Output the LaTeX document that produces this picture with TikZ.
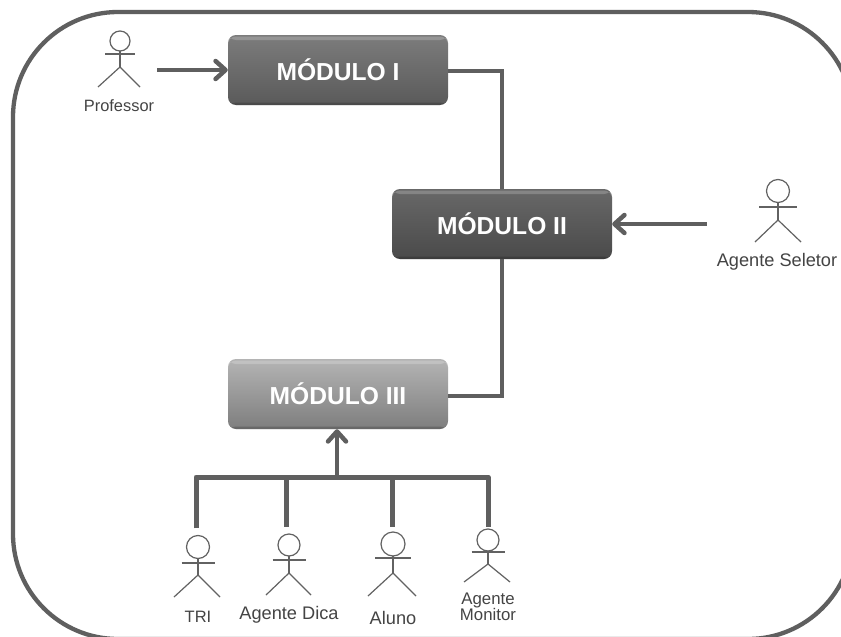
\documentclass[tikz,border=0pt]{standalone}
\usepackage{fontspec}
\setmainfont{Liberation Sans}
\usetikzlibrary{arrows.meta,fit,calc}
\definecolor{linegray}{HTML}{5F5F5F}
\definecolor{actorgray}{HTML}{626262}
\definecolor{labelgray}{HTML}{444444}
\tikzset{
  frameline/.style={draw=linegray,line width=4.3pt},
  modbox/.style={rounded corners=8pt,minimum width=220pt,minimum height=70pt,inner sep=0pt,
    text=white,font=\bfseries\fontsize{24.6}{28}\selectfont,
    path picture={
      \fill[white,opacity=.2] ([yshift=-1.5pt]path picture bounding box.north west) rectangle ([yshift=-5pt]path picture bounding box.north east);
      \fill[black,opacity=.18] ([yshift=2.5pt]path picture bounding box.south west) rectangle (path picture bounding box.south east);
    }},
  modone/.style={modbox,top color=HTMLa,bottom color=HTMLb},
  modtwo/.style={modbox,top color=HTMLc,bottom color=HTMLd},
  modthree/.style={modbox,top color=HTMLe,bottom color=HTMLf},
  conn/.style={draw=linegray,line width=4pt},
  busline/.style={draw=linegray,line width=5pt,line join=round},
  arrowline/.style={draw=linegray,line width=4.5pt,-{Straight Barb[length=10pt,width=18pt,round]}},
  actorline/.style={draw=actorgray,line width=1.2pt},
  actorlabel/.style={text=labelgray,inner sep=0pt,font=\fontsize{18.2}{20}\selectfont,align=center},
}
\definecolor{HTMLa}{HTML}{7C7C7C}
\definecolor{HTMLb}{HTML}{5A5A5A}
\definecolor{HTMLc}{HTML}{686868}
\definecolor{HTMLd}{HTML}{4A4A4A}
\definecolor{HTMLe}{HTML}{B4B4B4}
\definecolor{HTMLf}{HTML}{7E7E7E}
% name, cx, head y, r, arm half, arm y, hip y, left x, right x ; leg end y is \actorlegy
\newcommand{\actorfig}[9]{%
  \draw[actorline] (#2,#3) circle (#4);
  \draw[actorline] (#2-#5,#6) -- (#2+#5,#6);
  \draw[actorline] (#2,#3+#4) -- (#2,#7);
  \draw[actorline] (#8,\actorlegy) -- (#2,#7) -- (#9,\actorlegy);
  \coordinate (#1-a) at (#8,#3-#4);
  \coordinate (#1-b) at (#9,\actorlegy);
  \node[fit=(#1-a)(#1-b),inner sep=0pt] (#1) {};
}
\begin{document}
\begin{tikzpicture}[x=1pt,y=-1pt]
\useasboundingbox (0,0) rectangle (841,637);
\fill[white] (0,0) rectangle (841,637);
\begin{scope}
\clip (0,0) rectangle (841,637);
\draw[frameline,rounded corners=105pt] (13,12) rectangle (853,639);
\end{scope}

\node[modone] (m1) at (338,70) {MÓDULO I};
\node[modtwo] (m2) at (502,224) {MÓDULO II};
\node[modthree] (m3) at (338,394) {MÓDULO III};

\def\actorlegy{87}
\actorfig{professor}{120}{41}{10}{15}{54}{67}{98}{140}
\def\actorlegy{242}
\actorfig{seletor}{778}{191}{11.5}{19}{207}{220}{755}{801}
\def\actorlegy{597}
\actorfig{tri}{198}{547}{11.5}{16.5}{563}{575}{174}{220}
\def\actorlegy{595}
\actorfig{dica}{289}{545}{11}{16.5}{560}{573}{266}{311}
\def\actorlegy{596}
\actorfig{aluno}{393}{544}{12}{18}{558}{573}{368}{416}
\def\actorlegy{582}
\actorfig{monitor}{488}{540}{11}{16.5}{552}{564}{464}{510}

\node[actorlabel,font=\fontsize{16.4}{18}\selectfont] (lprof) at (119,106) {Professor};
\node[actorlabel] (lsel) at (777,262) {Agente Seletor};
\node[actorlabel,font=\fontsize{16.5}{18}\selectfont] (ltri) at (198,617) {TRI};
\node[actorlabel] (ldica) at (289,615) {Agente Dica};
\node[actorlabel] (laluno) at (393,618) {Aluno};
\node[actorlabel,font=\fontsize{16.8}{16}\selectfont] (lmon) at (488,607) {Agente\\Monitor};

\draw[arrowline,shorten <=17pt] (professor.east |- m1.west) -- (m1.west);
\draw[arrowline,shorten <=48pt] (seletor.west |- m2.east) -- (m2.east);
\draw[conn] ([yshift=-1pt]m1.east) -| (m2.north);
\draw[conn] (m2.south) |- ([yshift=-2pt]m3.east);

\coordinate (bus) at (337,477);
\coordinate (tritop) at ($(tri.north)+(-1,-7)$);
\coordinate (dicatop) at ($(dica.north)+(-2.5,-7)$);
\coordinate (alunotop) at ($(aluno.north)+(0,-5)$);
\coordinate (montop) at ($(monitor.north)+(1,-2)$);
\draw[arrowline] (bus) -- (m3.south -| bus);
\draw[busline] (tritop) |- (bus) -| (montop);
\draw[busline] (dicatop) -- (dicatop |- bus);
\draw[busline] (alunotop) -- (alunotop |- bus);
\end{tikzpicture}
\end{document}
